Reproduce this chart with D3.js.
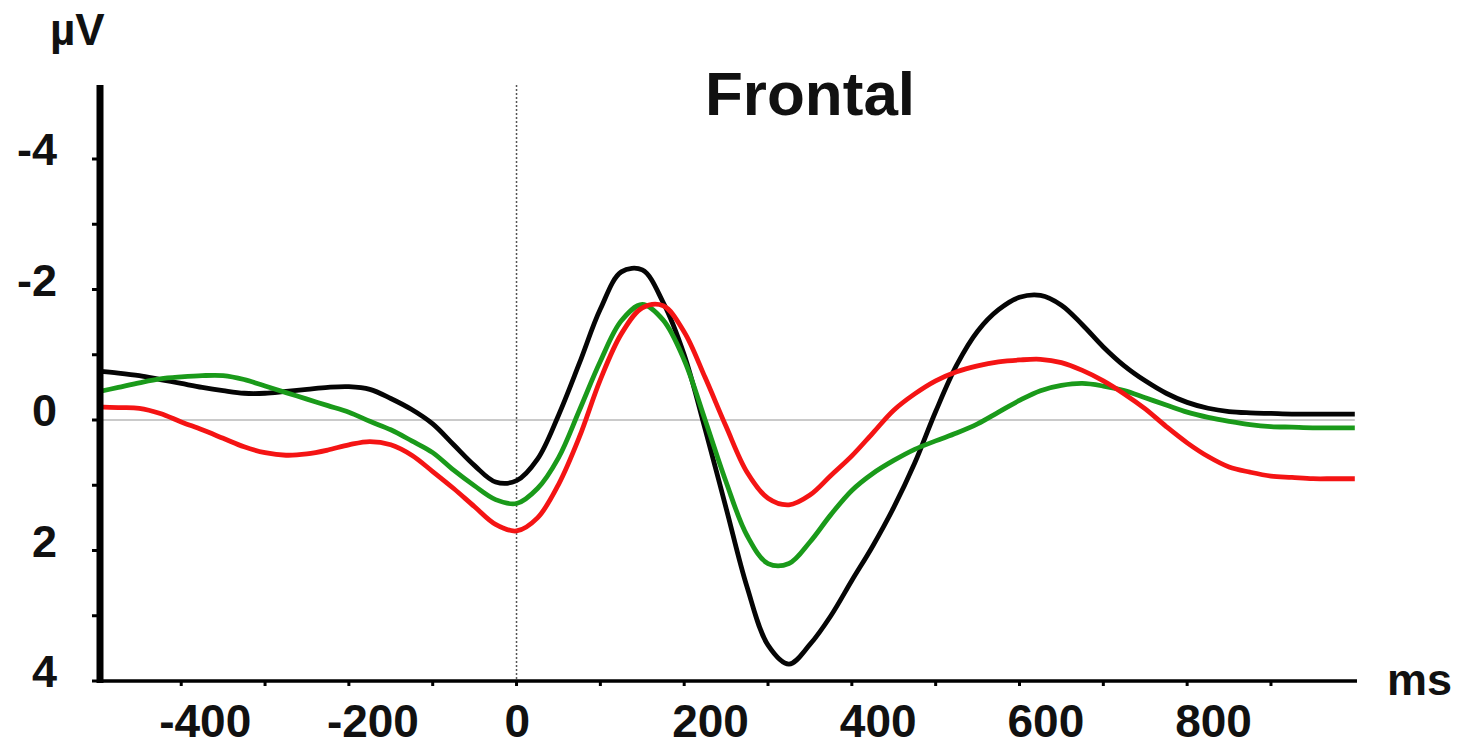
<!DOCTYPE html>
<html>
<head>
<meta charset="utf-8">
<script src="https://cdn.jsdelivr.net/npm/d3@7"></script>
<style>
  html, body { margin: 0; padding: 0; background: #fff; }
  svg text { font-family: "Liberation Sans", Arial, sans-serif; font-weight: bold; fill: #111; }
</style>
</head>
<body>
<svg id="chart" width="1471" height="746"></svg>
<script>
(function() {
  'use strict';

  // time points (ms), every 25 ms
  const times = [
    -500, -475, -450, -425, -400, -375, -350, -325, -300, -275,
    -250, -225, -200, -175, -150, -125, -100, -75, -50, -25,
    0, 25, 50, 75, 100, 125, 150, 175, 200, 225,
    250, 275, 300, 325, 350, 375, 400, 425, 450, 475,
    500, 525, 550, 575, 600, 625, 650, 675, 700, 725,
    750, 775, 800, 825, 850, 875, 900, 925, 950, 975, 1000];

  // amplitudes (µV), negative plotted up
  const blackSeries = [
    -0.75, -0.72, -0.68, -0.62, -0.56, -0.5, -0.45, -0.41, -0.41, -0.44,
    -0.47, -0.5, -0.51, -0.47, -0.33, -0.16, 0.06, 0.38, 0.7, 0.95,
    0.93, 0.6, -0.07, -0.87, -1.7, -2.27, -2.3, -1.8, -1.0, 0.14,
    1.35, 2.56, 3.45, 3.74, 3.44, 3.0, 2.46, 1.93, 1.34, 0.66,
    -0.13, -0.84, -1.36, -1.69, -1.88, -1.91, -1.76, -1.46, -1.12, -0.83,
    -0.6, -0.41, -0.27, -0.18, -0.13, -0.11, -0.1, -0.09, -0.09, -0.09, -0.09];
  const greenSeries = [
    -0.43, -0.5, -0.57, -0.63, -0.66, -0.68, -0.68, -0.62, -0.52, -0.42,
    -0.32, -0.22, -0.12, 0.02, 0.15, 0.32, 0.5, 0.77, 1.01, 1.22,
    1.28, 1.05, 0.58, -0.15, -0.9, -1.52, -1.77, -1.53, -0.92, 0.0,
    0.95, 1.77, 2.2, 2.2, 1.87, 1.45, 1.08, 0.82, 0.62, 0.45,
    0.32, 0.2, 0.06, -0.12, -0.3, -0.45, -0.53, -0.56, -0.52, -0.45,
    -0.34, -0.23, -0.12, -0.04, 0.02, 0.07, 0.1, 0.11, 0.12, 0.12, 0.12];
  const redSeries = [
    -0.2, -0.19, -0.18, -0.1, 0.03, 0.15, 0.28, 0.41, 0.5, 0.54,
    0.52, 0.46, 0.38, 0.33, 0.38, 0.54, 0.79, 1.05, 1.33, 1.6,
    1.7, 1.5, 0.99, 0.26, -0.62, -1.32, -1.72, -1.75, -1.35, -0.65,
    0.1, 0.8, 1.2, 1.3, 1.15, 0.85, 0.55, 0.2, -0.15, -0.4,
    -0.6, -0.74, -0.83, -0.89, -0.92, -0.93, -0.88, -0.76, -0.6, -0.4,
    -0.17, 0.1, 0.35, 0.56, 0.72, 0.8, 0.86, 0.88, 0.9, 0.9, 0.9];

  const yTickLabels = [-4, -2, 0, 2, 4];
  const yTicks = [-4, -3, -2, -1, 0, 1, 2, 3, 4];
  const xTickLabels = [-400, -200, 0, 200, 400, 600, 800];
  const xTicks = [-400, -300, -200, -100, 0, 100, 200, 300, 400, 500, 600, 700, 800, 900];

  const series = [
    { name: 'black', values: blackSeries, color: '#050505' },
    { name: 'green', values: greenSeries, color: '#1a9a1a' },
    { name: 'red', values: redSeries, color: '#f41414' }
  ];

  const svg = d3.select('#chart');

  const x = d3.scaleLinear().domain([-500, 1000]).range([97.4, 1354.8]);
  const y = d3.scaleLinear().domain([-4, 4]).range([159, 681]);

  const axisTop = 85;
  const axisBottom = 681;
  const axisLeft = 100;

  // zero line
  svg.append('line')
    .attr('x1', axisLeft).attr('x2', x(1000))
    .attr('y1', y(0)).attr('y2', y(0))
    .attr('stroke', '#b8b8b8')
    .attr('stroke-width', 1.5);

  // stimulus onset line
  svg.append('line')
    .attr('x1', x(0)).attr('x2', x(0))
    .attr('y1', axisTop).attr('y2', axisBottom)
    .attr('stroke', '#555')
    .attr('stroke-width', 1.5)
    .attr('stroke-dasharray', '2,2');

  // curves
  const line = d3.line()
    .x((d, i) => x(times[i]))
    .y(d => y(d))
    .curve(d3.curveCatmullRom.alpha(0.5));

  svg.append('g')
    .selectAll('path')
    .data(series)
    .enter()
    .append('path')
    .attr('d', d => line(d.values))
    .attr('fill', 'none')
    .attr('stroke', d => d.color)
    .attr('stroke-width', 4.8)
    .attr('stroke-linejoin', 'round');

  // x axis line + ticks
  svg.append('line')
    .attr('x1', axisLeft).attr('x2', 1357)
    .attr('y1', axisBottom).attr('y2', axisBottom)
    .attr('stroke', '#000')
    .attr('stroke-width', 3.5);

  svg.append('g')
    .selectAll('line')
    .data(xTicks)
    .enter()
    .append('line')
    .attr('x1', d => x(d)).attr('x2', d => x(d))
    .attr('y1', axisBottom).attr('y2', axisBottom + 5)
    .attr('stroke', '#000')
    .attr('stroke-width', 3);

  svg.append('g')
    .selectAll('text')
    .data(xTickLabels)
    .enter()
    .append('text')
    .attr('x', d => x(d) - (d < 0 ? 22 : 12))
    .attr('y', 737)
    .attr('font-size', 46)
    .text(d => d);

  // y axis line + ticks
  svg.append('line')
    .attr('x1', axisLeft).attr('x2', axisLeft)
    .attr('y1', axisTop).attr('y2', axisBottom + 2)
    .attr('stroke', '#000')
    .attr('stroke-width', 7);

  svg.append('g')
    .selectAll('line')
    .data(yTicks)
    .enter()
    .append('line')
    .attr('x1', axisLeft - 8).attr('x2', axisLeft)
    .attr('y1', d => y(d)).attr('y2', d => y(d))
    .attr('stroke', '#000')
    .attr('stroke-width', 3);

  svg.append('g')
    .selectAll('text')
    .data(yTickLabels)
    .enter()
    .append('text')
    .attr('x', 57)
    .attr('y', d => y(d) + 6)
    .attr('text-anchor', 'end')
    .attr('font-size', 45)
    .text(d => d);

  // unit labels and title
  svg.append('text')
    .attr('x', 50).attr('y', 45)
    .attr('font-size', 44)
    .text('µV');

  svg.append('text')
    .attr('x', 1387).attr('y', 695)
    .attr('font-size', 45)
    .text('ms');

  svg.append('text')
    .attr('x', 705).attr('y', 115)
    .attr('font-size', 62)
    .text('Frontal');

})();
</script>
</body>
</html>
